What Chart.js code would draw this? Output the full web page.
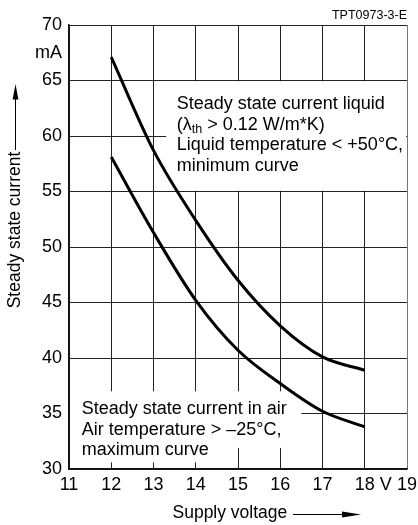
<!DOCTYPE html>
<html>
<head>
<meta charset="utf-8">
<script src="https://cdn.jsdelivr.net/npm/chart.js@4.4.1/dist/chart.umd.min.js"></script>
<style>
  html, body { margin: 0; padding: 0; background: #fff; }
  canvas { display: block; }
</style>
</head>
<body>
<canvas id="c" width="418" height="525"></canvas>
<script>
// ---- data ----
const voltage = [12, 13, 14, 15, 16, 17, 18];
const liquidCurrent = [67.1, 58.7, 52.4, 47.0, 42.9, 40.1, 38.9];
const airCurrent = [58.1, 51.3, 45.2, 40.7, 37.7, 35.2, 33.8];
const xTickValues = [11, 12, 13, 14, 15, 16, 17, 18, 19];
const yTickValues = [30, 35, 40, 45, 50, 55, 60, 65, 70];
const xUnit = 'V';
const yUnit = 'mA';
const xTitle = 'Supply voltage';
const yTitle = 'Steady state current';
const figureId = 'TPT0973-3-E';
const liquidText = ['Steady state current liquid', ['(\u03bb', 'th', ' > 0.12 W/m*K)'], 'Liquid temperature < +50\u00b0C,', 'minimum curve'];
const airText = ['Steady state current in air', 'Air temperature > \u201325\u00b0C,', 'maximum curve'];

const FONT = '"Liberation Sans", Arial, Helvetica, sans-serif';
const UNIT_X_POS = 18.5;
const UNIT_Y_POS = 67.5;

function toPts(xs, ys) { return xs.map((v, i) => ({ x: v, y: ys[i] })); }

const decor = {
  id: 'decor',
  beforeDatasetsDraw(chart) {
    const { ctx, scales: { x, y } } = chart;
    ctx.save();
    ctx.fillStyle = '#ffffff';
    const rect = (x0, x1, y0, y1, l, r, t, b) => {
      const px0 = x.getPixelForValue(x0) + l, px1 = x.getPixelForValue(x1) - r;
      const py0 = y.getPixelForValue(y0) + t, py1 = y.getPixelForValue(y1) - b;
      ctx.fillRect(px0, py0, px1 - px0, py1 - py0);
    };
    // upper label background
    rect(13.3, 19, 65, 55, 0, 1, 0.8, 0.8);
    // lower label background
    rect(11, 16.5, 37, 31.9, 1, 0, 0, 0);
    rect(11, 14.6, 31.95, 30.6, 1, 0, 0, 0);
    ctx.restore();
  },
  afterDraw(chart) {
    const { ctx, scales: { x, y }, chartArea } = chart;
    ctx.save();
    ctx.fillStyle = '#000';
    ctx.strokeStyle = '#000';
    ctx.textBaseline = 'alphabetic';
    ctx.textAlign = 'left';

    // upper annotation
    let x0 = x.getPixelForValue(13.55);
    let y0 = y.getPixelForValue(62.4);
    const lh = 20.5;
    liquidText.forEach((line, i) => {
      const by = y0 + i * lh;
      if (Array.isArray(line)) {
        let cx = x0;
        ctx.font = '18px ' + FONT;
        ctx.fillText(line[0], cx, by);
        cx += ctx.measureText(line[0]).width;
        ctx.font = '12.5px ' + FONT;
        ctx.fillText(line[1], cx, by + 3.5);
        cx += ctx.measureText(line[1]).width;
        ctx.font = '18px ' + FONT;
        ctx.fillText(line[2], cx, by);
      } else {
        ctx.font = '18px ' + FONT;
        ctx.fillText(line, x0, by);
      }
    });

    // lower annotation
    x0 = x.getPixelForValue(11.3);
    y0 = y.getPixelForValue(35) + 0.3;
    ctx.font = '18px ' + FONT;
    airText.forEach((line, i) => ctx.fillText(line, x0, y0 + i * 20.8));

    // figure id
    ctx.font = '12.5px ' + FONT;
    ctx.textAlign = 'right';
    ctx.fillText(figureId, chartArea.right, 19);

    // x axis title + arrow
    ctx.font = '17.5px ' + FONT;
    ctx.textAlign = 'left';
    ctx.fillText(xTitle, 172.5, 518);
    ctx.lineWidth = 1;
    ctx.beginPath();
    ctx.moveTo(293, 514.5);
    ctx.lineTo(345, 514.5);
    ctx.stroke();
    ctx.beginPath();
    ctx.moveTo(361, 514.5);
    ctx.lineTo(342, 511.5);
    ctx.lineTo(342, 517.5);
    ctx.closePath();
    ctx.fill();

    // y axis title + arrow
    ctx.save();
    ctx.translate(20, 230);
    ctx.rotate(-Math.PI / 2);
    ctx.font = '17.5px ' + FONT;
    ctx.textAlign = 'center';
    ctx.fillText(yTitle, 0, 0);
    ctx.restore();
    ctx.beginPath();
    ctx.moveTo(15.5, 150);
    ctx.lineTo(15.5, 98);
    ctx.stroke();
    ctx.beginPath();
    ctx.moveTo(15.5, 84);
    ctx.lineTo(12.6, 99.5);
    ctx.lineTo(18.4, 99.5);
    ctx.closePath();
    ctx.fill();

    ctx.restore();
  }
};

const gridColor = (c, hideVal, lastVal) => {
  const v = c.tick && c.tick.value;
  if (v === hideVal) return 'rgba(0,0,0,0)';
  if (v === lastVal) return '#777';
  return '#222';
};

new Chart(document.getElementById('c'), {
  type: 'line',
  data: {
    datasets: [
      { data: toPts(voltage, liquidCurrent), borderColor: '#000', borderWidth: 3, pointRadius: 0, fill: false, cubicInterpolationMode: 'monotone' },
      { data: toPts(voltage, airCurrent), borderColor: '#000', borderWidth: 3, pointRadius: 0, fill: false, cubicInterpolationMode: 'monotone' }
    ]
  },
  options: {
    responsive: false,
    animation: false,
    devicePixelRatio: 1,
    layout: { padding: { left: 0, right: 11, top: 25, bottom: 0 } },
    plugins: { legend: { display: false }, tooltip: { enabled: false }, title: { display: false } },
    scales: {
      x: {
        type: 'linear', min: 11, max: 19,
        afterBuildTicks: s => { s.ticks = xTickValues.concat([UNIT_X_POS]).map(v => ({ value: v })); },
        afterFit: s => { s.height = 56; },
        grid: { drawTicks: false, color: c => gridColor(c, UNIT_X_POS, 19), lineWidth: 1 },
        border: { display: true, color: '#111', width: 1.5 },
        ticks: {
          padding: 5, color: '#000', font: { family: FONT, size: 18 }, maxRotation: 0, autoSkip: false,
          callback: v => (v === UNIT_X_POS ? xUnit : String(v))
        }
      },
      y: {
        type: 'linear', min: 30, max: 70,
        afterBuildTicks: s => { s.ticks = yTickValues.concat([UNIT_Y_POS]).map(v => ({ value: v })); },
        afterFit: s => { s.width = 69; },
        grid: { drawTicks: false, color: c => gridColor(c, UNIT_Y_POS, null), lineWidth: 1 },
        border: { display: true, color: '#111', width: 1.5 },
        ticks: {
          padding: 7, color: '#000', font: { family: FONT, size: 18 }, autoSkip: false,
          callback: v => (v === UNIT_Y_POS ? yUnit : String(v))
        }
      }
    }
  },
  plugins: [decor]
});
</script>
</body>
</html>
